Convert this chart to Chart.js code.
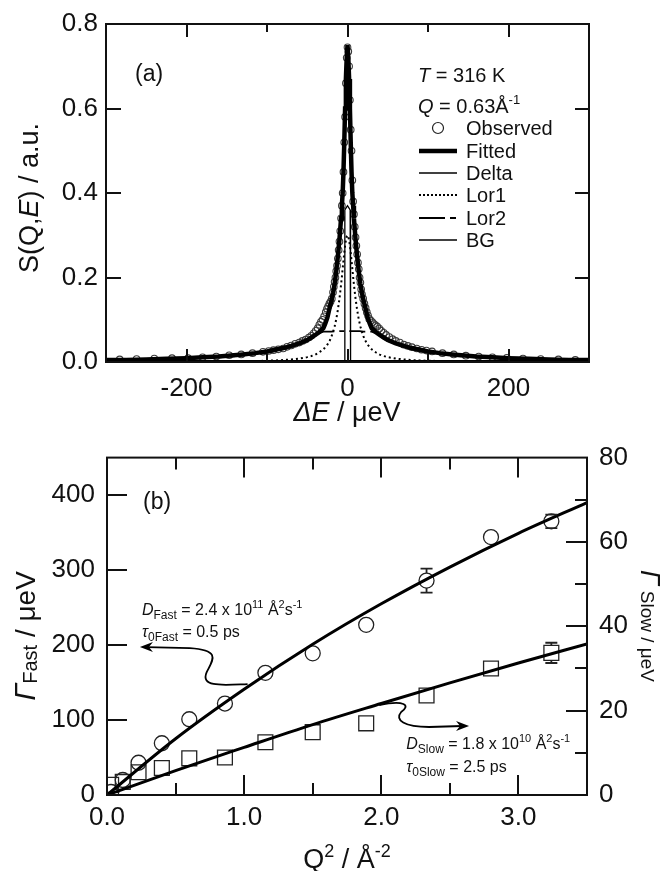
<!DOCTYPE html>
<html><head><meta charset="utf-8">
<script src="https://cdn.jsdelivr.net/npm/chart.js@4.4.1/dist/chart.umd.min.js"></script>
<style>
html,body{margin:0;padding:0;background:#fff;}
#wrap{position:relative;width:664px;height:871px;overflow:hidden;background:#fff;}
#ca{position:absolute;left:0;top:0;width:664px;height:430px;}
#cb{position:absolute;left:0;top:430px;width:664px;height:441px;}
</style></head><body>
<div id="wrap"><div id="ca"><canvas id="a"></canvas></div><div id="cb"><canvas id="b"></canvas></div></div>
<script>
// ---------- Panel (a) data ----------
const E_obs = [-283,-262,-240,-218,-198,-180,-163,-147,-132,-118,-105,-98,-92,-86,-80,-75,-70,-65,-60,-56,-52,-48,-45,-42,-39.5,-37,-35,-33,-31,-29,-27,-25.5,-24,-22.5,-21,-19.5,-18,-17,-16,-15,-14,-13,-12,-11,-10,-9,-8,-7,-6,-5,-4,-3,-2,-1,0,
  1,2,3,4,5,6,7,8,9,10,11,12,13,14,15,16,17,18,19.5,21,22.5,24,25.5,27,29,31,33,35,37,39.5,42,45,48,52,56,60,65,70,75,80,86,92,98,105,118,132,147,163,180,198,218,240,262,283];
const S_obs = [0.006,0.007,0.008,0.009,0.009,0.011,0.013,0.016,0.018,0.021,0.024,0.026,0.028,0.030,0.032,0.036,0.039,0.043,0.046,0.050,0.053,0.058,0.062,0.068,0.074,0.080,0.088,0.095,0.100,0.108,0.118,0.126,0.132,0.138,0.143,0.150,0.165,0.178,0.190,0.200,0.215,0.228,0.245,0.265,0.285,0.310,0.340,0.370,0.400,0.450,0.520,0.580,0.660,0.720,0.745,
  0.735,0.700,0.620,0.550,0.500,0.430,0.380,0.350,0.320,0.295,0.275,0.255,0.235,0.220,0.200,0.188,0.172,0.160,0.150,0.138,0.128,0.118,0.110,0.102,0.098,0.094,0.090,0.087,0.084,0.079,0.074,0.069,0.064,0.059,0.054,0.050,0.046,0.041,0.038,0.035,0.032,0.029,0.027,0.025,0.021,0.018,0.015,0.013,0.011,0.010,0.008,0.007,0.006,0.005];

const E_fit = [-300,-275,-250,-225,-200,-180,-160,-145,-130,-115,-100,-90,-80,-70,-60,-50,-45,-40,-35,-30,-28,-25,-22,-20,-18,-16,-14,-12,-10,-9,-8,-7,-6,-5,-4,-3,-2,-1,0,
  1,2,3,4,5,6,7,8,9,10,12,14,16,18,20,22,25,28,30,35,40,45,50,60,70,80,90,100,115,130,145,160,180,200,225,250,275,300];
const S_fitted = [0.0045,0.005,0.006,0.0075,0.009,0.011,0.013,0.0155,0.018,0.021,0.025,0.029,0.033,0.038,0.044,0.052,0.058,0.064,0.071,0.080,0.089,0.105,0.13,0.145,0.163,0.185,0.215,0.25,0.29,0.315,0.34,0.37,0.40,0.45,0.52,0.60,0.67,0.72,0.75,
  0.72,0.67,0.60,0.52,0.45,0.40,0.37,0.34,0.315,0.29,0.25,0.215,0.185,0.163,0.145,0.13,0.105,0.089,0.080,0.071,0.064,0.058,0.052,0.044,0.038,0.033,0.029,0.025,0.021,0.018,0.0155,0.013,0.011,0.009,0.0075,0.006,0.005,0.0045];
const S_lor1 = [0.0003,0.0004,0.0005,0.0006,0.00075,0.0009,0.0012,0.0014,0.0018,0.0023,0.003,0.0037,0.0046,0.006,0.0081,0.0115,0.0141,0.0176,0.023,0.030,0.034,0.041,0.051,0.060,0.071,0.084,0.101,0.123,0.150,0.166,0.183,0.201,0.221,0.240,0.259,0.275,0.288,0.297,0.300,
  0.297,0.288,0.275,0.259,0.240,0.221,0.201,0.183,0.166,0.150,0.123,0.101,0.084,0.071,0.060,0.051,0.041,0.034,0.030,0.023,0.0176,0.0141,0.0115,0.0081,0.006,0.0046,0.0037,0.003,0.0023,0.0018,0.0014,0.0012,0.0009,0.00075,0.0006,0.0005,0.0004,0.0003];

const E_lor2 = [-300,-275,-250,-225,-200,-180,-160,-145,-130,-115,-100,-90,-80,-70,-60,-50,-45,-40,-35,-30,-25,-20,-15,-10,-5,0,5,10,15,20,25,30,35,40,45,50,60,70,80,90,100,115,130,145,160,180,200,225,250,275,300];
const S_lor2 = [0.0039,0.0045,0.0052,0.0063,0.0077,0.0092,0.011,0.013,0.0155,0.018,0.022,0.026,0.030,0.035,0.042,0.050,0.055,0.062,0.068,0.072,0.072,0.072,0.073,0.073,0.073,0.073,0.073,0.073,0.073,0.072,0.072,0.072,0.068,0.062,0.055,0.050,0.042,0.035,0.030,0.026,0.022,0.018,0.0155,0.013,0.011,0.0092,0.0077,0.0063,0.0052,0.0045,0.0039];

const E_delta = [-5,-3.8,-3.3,0,3.3,3.8,5];
const S_delta = [0,0,0.36,0.37,0.36,0,0];

const E_bg = [-300,300];
const S_bg = [0.003,0.003];

const xTicksA = [-200,0,200];
const xMinorA = [-100,100];
const yTicksA = [0,0.2,0.4,0.6,0.8];
const yInnerA = [0.2,0.4,0.6];

// ---------- Panel (b) data ----------
const Q2 = [0.03,0.115,0.23,0.40,0.60,0.86,1.155,1.50,1.89,2.33,2.80,3.24];
const G_fast = [4,20,43,69,101,122,163,189,227,286,344,365];
const G_fast_err = [0,0,0,0,0,0,0,0,0,16,0,9];
const G_slow = [2.4,3.1,5.4,6.4,8.7,8.9,12.5,14.9,17.0,23.6,30.0,33.7];
const G_slow_err = [0,0,0,0,0,0,0,0,0,0,0,2.4];
const Q2_fit = [0,0.5,1.0,1.5,2.0,2.5,3.0,3.5];
const G_fast_fit = [0,75,141,201,255,304,349,390];
const G_slow_fit = [0,5.8,11.3,16.7,21.7,26.6,31.3,35.8];

const xTicksB = [0,1,2,3];
const xMinorB = [0.5,1.5,2.5];
const yTicksB = [0,100,200,300,400];
const y2TicksB = [0,20,40,60,80];
const y2MinorB = [10,30,50,70];

// ---------- helpers ----------
const FAM = '"Liberation Sans", Arial, Helvetica, sans-serif';
const INK = '#111';
Chart.defaults.font.family = FAM;
Chart.defaults.color = INK;
function fnt(size, it){ return (it?'italic ':'') + size + 'px ' + FAM; }
function rich(ctx, parts, x, y, align){
  let w = 0;
  for (const p of parts){ ctx.font = fnt(p[1], p[2]); w += ctx.measureText(p[0]).width; }
  let cx = align==='center' ? x - w/2 : (align==='right' ? x - w : x);
  ctx.textAlign = 'left'; ctx.textBaseline = 'alphabetic'; ctx.fillStyle = INK;
  for (const p of parts){ ctx.font = fnt(p[1], p[2]); ctx.fillText(p[0], cx, y + (p[3]||0)); cx += ctx.measureText(p[0]).width; }
}
const pts = (xs, ys) => xs.map((x,i)=>({x:x, y:ys[i]}));
function tickSpec(chart, specs){
  const ctx = chart.ctx, a = chart.chartArea;
  ctx.save(); ctx.strokeStyle = INK; ctx.lineWidth = 2; ctx.lineCap = 'butt';
  for (const s of specs){
    const sc = chart.scales[s.scale];
    for (const v of s.values){
      const p = Math.round(sc.getPixelForValue(v));
      ctx.beginPath();
      if (s.side==='bottom'){ ctx.moveTo(p, a.bottom); ctx.lineTo(p, a.bottom - s.len); }
      if (s.side==='top'){ ctx.moveTo(p, a.top); ctx.lineTo(p, a.top + s.len); }
      if (s.side==='left'){ ctx.moveTo(a.left, p); ctx.lineTo(a.left + s.len, p); }
      if (s.side==='right'){ ctx.moveTo(a.right, p); ctx.lineTo(a.right - s.len, p); }
      ctx.stroke();
    }
  }
  ctx.strokeRect(a.left, a.top, a.right - a.left, a.bottom - a.top);
  ctx.restore();
}
function axisOpts(extra){
  return Object.assign({
    type:'linear',
    grid:{display:false, drawTicks:false},
    border:{display:false},
  }, extra);
}

// ---------- Chart (a) ----------
new Chart(document.getElementById('a'), {
  type:'scatter',
  data:{datasets:[
    {label:'Fitted', data:pts(E_fit,S_fitted), showLine:true, borderColor:'#000', borderWidth:4.5, pointRadius:0, tension:0},
    {label:'Delta', data:pts(E_delta,S_delta), showLine:true, borderColor:'#000', borderWidth:1.3, pointRadius:0, tension:0},
    {label:'Lor1', data:pts(E_fit,S_lor1), showLine:true, borderColor:'#000', borderWidth:2, borderDash:[2,3], pointRadius:0, tension:0},
    {label:'Lor2', data:pts(E_lor2,S_lor2), showLine:true, borderColor:'#000', borderWidth:1.8, borderDash:[16,5,5,5], pointRadius:0, tension:0},
    {label:'BG', data:pts(E_bg,S_bg), showLine:true, borderColor:'#000', borderWidth:1.4, pointRadius:0},
    {label:'Observed', data:pts(E_obs,S_obs), showLine:false, pointRadius:3.3, pointBorderWidth:1.1, borderColor:'#3a3a3a', backgroundColor:'rgba(0,0,0,0)', pointBackgroundColor:'rgba(0,0,0,0)'}
  ]},
  options:{
    responsive:true, maintainAspectRatio:false, animation:false, devicePixelRatio:1, events:[],
    layout:{padding:{left:0,right:75,top:24,bottom:0}},
    plugins:{legend:{display:false}, tooltip:{enabled:false}},
    scales:{
      x: axisOpts({position:'bottom', min:-300, max:300,
        ticks:{padding:11, font:{size:26}, color:INK, autoSkip:false, maxRotation:0, callback:v=>String(v)},
        afterBuildTicks:s=>{s.ticks = xTicksA.map(v=>({value:v}));},
        afterFit:s=>{s.height = 68;}}),
      y: axisOpts({position:'left', min:0, max:0.8,
        ticks:{padding:8, font:{size:26}, color:INK, autoSkip:false, callback:v=>Number(v).toFixed(1)},
        afterBuildTicks:s=>{s.ticks = yTicksA.map(v=>({value:v}));},
        afterFit:s=>{s.width = 106;}})
    }
  },
  plugins:[{
    id:'decoA',
    afterDatasetsDraw(chart){
      tickSpec(chart, [
        {scale:'x', side:'bottom', values:xTicksA, len:13},
        {scale:'x', side:'top', values:xTicksA, len:13},
        {scale:'x', side:'bottom', values:xMinorA, len:8},
        {scale:'x', side:'top', values:xMinorA, len:8},
        {scale:'y', side:'left', values:yInnerA, len:15},
        {scale:'y', side:'right', values:yInnerA, len:14}
      ]);
    },
    afterDraw(chart){
      const ctx = chart.ctx;
      ctx.save();
      rich(ctx, [['(a)',23,false,0]], 135, 81, 'left');
      // legend
      rich(ctx, [['T',20,true,0],[' = 316 K',20,false,0]], 418, 82, 'left');
      rich(ctx, [['Q',20,true,0],[' = 0.63Å',20,false,0],['-1',13,false,-9]], 418, 113, 'left');
      ctx.strokeStyle = '#222'; ctx.lineWidth = 1.2;
      ctx.beginPath(); ctx.arc(438, 128, 5.5, 0, Math.PI*2); ctx.stroke();
      rich(ctx, [['Observed',20,false,0]], 466, 135, 'left');
      ctx.strokeStyle = '#000';
      ctx.lineWidth = 4.5; ctx.beginPath(); ctx.moveTo(419,151); ctx.lineTo(457,151); ctx.stroke();
      rich(ctx, [['Fitted',20,false,0]], 466, 158, 'left');
      ctx.lineWidth = 1.6; ctx.beginPath(); ctx.moveTo(419,173); ctx.lineTo(457,173); ctx.stroke();
      rich(ctx, [['Delta',20,false,0]], 466, 180, 'left');
      ctx.lineWidth = 2; ctx.setLineDash([2,2]); ctx.beginPath(); ctx.moveTo(419,195); ctx.lineTo(457,195); ctx.stroke();
      ctx.setLineDash([]);
      rich(ctx, [['Lor1',20,false,0]], 466, 202, 'left');
      ctx.lineWidth = 1.8; ctx.beginPath(); ctx.moveTo(419,218); ctx.lineTo(445,218); ctx.moveTo(450,218); ctx.lineTo(456,218); ctx.stroke();
      rich(ctx, [['Lor2',20,false,0]], 466, 225, 'left');
      ctx.lineWidth = 1.6; ctx.beginPath(); ctx.moveTo(419,240); ctx.lineTo(457,240); ctx.stroke();
      rich(ctx, [['BG',20,false,0]], 466, 247, 'left');
      // axis titles
      rich(ctx, [['ΔE',27,true,0],[' / μeV',27,false,0]], 347, 421, 'center');
      ctx.translate(38, 198); ctx.rotate(-Math.PI/2);
      rich(ctx, [['S(Q,',27,false,0],['E',27,true,0],[') / a.u.',27,false,0]], 0, 0, 'center');
      ctx.restore();
    }
  }]
});

// ---------- Chart (b) ----------
const arrowsB = {
  fast:{start:[1.025,148], c:[[0.858,146.7],[0.676,142.7],[0.727,164],[0.771,180],[0.836,193.3],[0.604,196]], end:[0.29,197.3], tip:[0.24,197.3], dir:-1},
  slow:{start:[1.985,120], c:[[2.167,126.7],[2.218,120],[2.145,110.7],[2.095,100],[2.167,90.7],[2.349,90.7]], end:[2.59,92], tip:[2.64,92], dir:1}
};
new Chart(document.getElementById('b'), {
  type:'scatter',
  data:{datasets:[
    {label:'Fast fit', data:pts(Q2_fit,G_fast_fit), showLine:true, borderColor:'#000', borderWidth:3, pointRadius:0, cubicInterpolationMode:'monotone', yAxisID:'y'},
    {label:'Slow fit', data:pts(Q2_fit,G_slow_fit), showLine:true, borderColor:'#000', borderWidth:3, pointRadius:0, cubicInterpolationMode:'monotone', yAxisID:'y2'},
    {label:'Fast', data:pts(Q2,G_fast), showLine:false, pointStyle:'circle', pointRadius:7.5, pointBorderWidth:1.3, borderColor:'#222', backgroundColor:'rgba(0,0,0,0)', pointBackgroundColor:'rgba(0,0,0,0)', yAxisID:'y'},
    {label:'Slow', data:pts(Q2,G_slow), showLine:false, pointStyle:'rect', pointRadius:10.5, pointBorderWidth:1.3, borderColor:'#222', backgroundColor:'rgba(0,0,0,0)', pointBackgroundColor:'rgba(0,0,0,0)', yAxisID:'y2'}
  ]},
  options:{
    responsive:true, maintainAspectRatio:false, animation:false, devicePixelRatio:1, events:[],
    layout:{padding:{left:0,right:0,top:26,bottom:0}},
    plugins:{legend:{display:false}, tooltip:{enabled:false}},
    scales:{
      x: axisOpts({position:'bottom', min:0, max:3.5,
        ticks:{padding:7, font:{size:26}, color:INK, autoSkip:false, maxRotation:0, callback:v=>Number(v).toFixed(1)},
        afterBuildTicks:s=>{s.ticks = xTicksB.map(v=>({value:v}));},
        afterFit:s=>{s.height = 76;}}),
      y: axisOpts({position:'left', min:0, max:450,
        ticks:{padding:12, font:{size:26}, color:INK, autoSkip:false, callback:v=>String(v)},
        afterBuildTicks:s=>{s.ticks = yTicksB.map(v=>({value:v}));},
        afterFit:s=>{s.width = 107;}}),
      y2: axisOpts({position:'right', min:0, max:80,
        ticks:{padding:12, font:{size:26}, color:INK, autoSkip:false, callback:v=>String(v)},
        afterBuildTicks:s=>{s.ticks = y2TicksB.map(v=>({value:v}));},
        afterFit:s=>{s.width = 77;}})
    }
  },
  plugins:[{
    id:'decoB',
    afterDatasetsDraw(chart){
      const ctx = chart.ctx, xs = chart.scales.x, ys = chart.scales.y, y2 = chart.scales.y2;
      // error bars
      ctx.save(); ctx.strokeStyle = '#222'; ctx.lineWidth = 1.8;
      const bars = (vals, errs, sc, r) => {
        vals.forEach((v,i)=>{
          const e = errs[i]; if (!e) return;
          const px = xs.getPixelForValue(Q2[i]);
          const pc = sc.getPixelForValue(v), pt = sc.getPixelForValue(v+e), pb = sc.getPixelForValue(v-e);
          ctx.beginPath();
          ctx.moveTo(px, pt); ctx.lineTo(px, pc - r);
          ctx.moveTo(px, pb); ctx.lineTo(px, pc + r);
          ctx.moveTo(px-6, pt); ctx.lineTo(px+6, pt);
          ctx.moveTo(px-6, pb); ctx.lineTo(px+6, pb);
          ctx.stroke();
        });
      };
      bars(G_fast, G_fast_err, ys, 7.5);
      bars(G_slow, G_slow_err, y2, 7.4);
      ctx.restore();
      tickSpec(chart, [
        {scale:'x', side:'bottom', values:[1,2,3], len:20},
        {scale:'x', side:'top', values:[1,2,3], len:20},
        {scale:'x', side:'bottom', values:xMinorB, len:12},
        {scale:'x', side:'top', values:xMinorB, len:12},
        {scale:'y', side:'left', values:[100,200,300,400], len:20},
        {scale:'y2', side:'right', values:[20,40,60], len:21},
        {scale:'y2', side:'right', values:y2MinorB, len:12}
      ]);
      // arrows
      ctx.save(); ctx.strokeStyle = '#000'; ctx.fillStyle = '#000'; ctx.lineWidth = 1.8;
      const P = p => [xs.getPixelForValue(p[0]), ys.getPixelForValue(p[1])];
      for (const k of ['fast','slow']){
        const A = arrowsB[k];
        const s = P(A.start), c = A.c.map(P), e = P(A.end), t = P(A.tip);
        ctx.beginPath(); ctx.moveTo(s[0], s[1]);
        ctx.bezierCurveTo(c[0][0],c[0][1],c[1][0],c[1][1],c[2][0],c[2][1]);
        ctx.bezierCurveTo(c[3][0],c[3][1],c[4][0],c[4][1],c[5][0],c[5][1]);
        ctx.lineTo(e[0], e[1]); ctx.stroke();
        ctx.beginPath(); ctx.moveTo(t[0], t[1]);
        ctx.lineTo(t[0] - A.dir*13, t[1] - 5); ctx.lineTo(t[0] - A.dir*9, t[1]); ctx.lineTo(t[0] - A.dir*13, t[1] + 5);
        ctx.closePath(); ctx.fill();
      }
      ctx.restore();
    },
    afterDraw(chart){
      const ctx = chart.ctx, xs = chart.scales.x, ys = chart.scales.y;
      ctx.save();
      rich(ctx, [['(b)',23,false,0]], 143, 79, 'left');
      rich(ctx, [['D',16,true,0],['Fast',12,false,4],[' = 2.4 x 10',16,false,0],['11',11,false,-7],[' Å',16,false,0],['2',11,false,-7],['s',16,false,0],['-1',11,false,-7]],
        xs.getPixelForValue(0.255), ys.getPixelForValue(240), 'left');
      rich(ctx, [['τ',16,true,0],['0Fast',12,false,4],[' = 0.5 ps',16,false,0]],
        xs.getPixelForValue(0.255), ys.getPixelForValue(210.7), 'left');
      rich(ctx, [['D',16,true,0],['Slow',12,false,4],[' = 1.8 x 10',16,false,0],['10',11,false,-7],[' Å',16,false,0],['2',11,false,-7],['s',16,false,0],['-1',11,false,-7]],
        xs.getPixelForValue(2.182), ys.getPixelForValue(61.3), 'left');
      rich(ctx, [['τ',16,true,0],['0Slow',12,false,4],[' = 2.5 ps',16,false,0]],
        xs.getPixelForValue(2.182), ys.getPixelForValue(30.7), 'left');
      // axis titles
      rich(ctx, [['Q',27,false,0],['2',18,false,-11],[' / Å',27,false,0],['-2',18,false,-11]], 347, 438, 'center');
      ctx.save(); ctx.translate(35, 206); ctx.rotate(-Math.PI/2);
      rich(ctx, [['Γ',30,true,0],['Fast',20,false,2],[' / μeV',28,false,0]], 0, 0, 'center');
      ctx.restore();
      ctx.save(); ctx.translate(641, 196); ctx.rotate(Math.PI/2);
      rich(ctx, [['Γ',27,true,0],[' Slow',19,false,0],[' / μeV',19,false,0]], 0, 0, 'center');
      ctx.restore();
      ctx.restore();
    }
  }]
});
</script>
</body></html>
